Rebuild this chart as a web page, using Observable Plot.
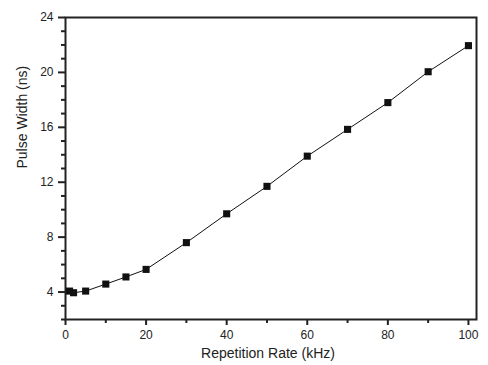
<!DOCTYPE html>
<html><head><meta charset="utf-8">
<script src="https://cdn.jsdelivr.net/npm/d3@7"></script>
<script src="https://cdn.jsdelivr.net/npm/@observablehq/plot@0.6"></script>
<style>
body{margin:0;background:#fff;}
svg{font-family:"Liberation Sans",Arial,sans-serif;}
</style></head><body><div id="chart"></div>
<script>
const rate = [1, 2, 5, 10, 15, 20, 30, 40, 50, 60, 70, 80, 90, 100];
const pulseWidth = [4.07, 3.95, 4.07, 4.58, 5.1, 5.65, 7.6, 9.7, 11.7, 13.9, 15.85, 17.8, 20.05, 21.95];
const xMajor = [0, 20, 40, 60, 80, 100];
const xMinor = [10, 30, 50, 70, 90];
const yMajor = [4, 8, 12, 16, 20, 24];
const yMinor = [2, 3, 5, 6, 7, 9, 10, 11, 13, 14, 15, 17, 18, 19, 21, 22, 23];
const data = rate.map((r, i) => ({rate: r, width: pulseWidth[i]}));

const chart = Plot.plot({
  width: 488, height: 365,
  marginLeft: 65, marginRight: 12, marginTop: 17, marginBottom: 46,
  style: {fontSize: "12px", fontFamily: "'Liberation Sans', Arial, sans-serif", color: "#222"},
  x: {domain: [0, 102]},
  y: {domain: [2, 24]},
  marks: [
    Plot.axisX({ticks: xMinor, tickSize: 4, strokeWidth: 2, label: null, text: null}),
    Plot.axisX({ticks: xMajor, tickSize: 6, strokeWidth: 2, tickPadding: 5, fontSize: 12, label: null}),
    Plot.axisY({ticks: yMinor, tickSize: 4, strokeWidth: 2, label: null, text: null}),
    Plot.axisY({ticks: yMajor, tickSize: 7, strokeWidth: 2, tickPadding: 5, fontSize: 12, label: null}),
    Plot.text(["Repetition Rate (kHz)"], {frameAnchor: "bottom", dx: -3, dy: 38, fontSize: 14, fill: "#222"}),
    Plot.text(["Pulse Width (ns)"], {frameAnchor: "left", dx: -43, rotate: -90, fontSize: 14, fill: "#222"}),
    Plot.frame({stroke: "#222", strokeWidth: 2}),
    Plot.line(data, {x: "rate", y: "width", stroke: "#111", strokeWidth: 1}),
    Plot.dot(data, {x: "rate", y: "width", symbol: "square", r: 4, fill: "#111", stroke: "none"})
  ]
});
document.getElementById("chart").appendChild(chart);
</script></body></html>
